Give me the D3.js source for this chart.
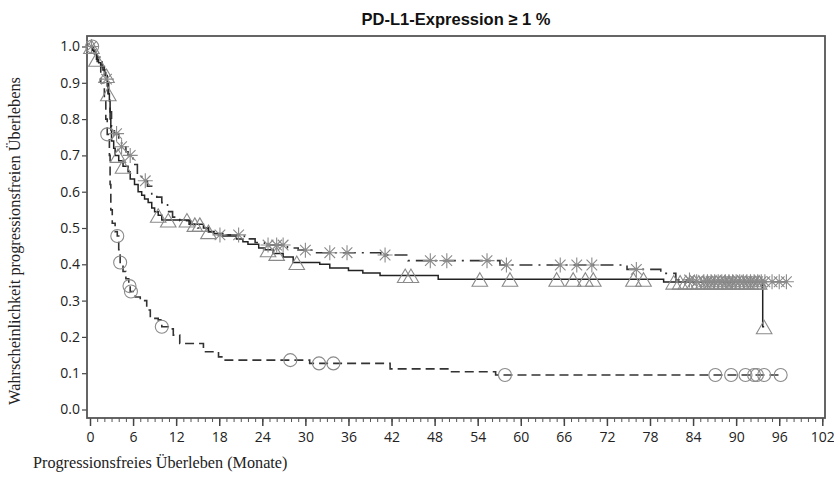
<!DOCTYPE html>
<html><head><meta charset="utf-8">
<script src="https://cdn.jsdelivr.net/npm/d3@7"></script>
<style>body{margin:0;background:#fff}svg{display:block}</style>
</head><body>
<svg id="c" width="834" height="488"></svg>
<script>
// ---- data ----
const title = "PD-L1-Expression \u2265 1 %";
const xTicks = [0,6,12,18,24,30,36,42,48,54,60,66,72,78,84,90,96,102];
const yTicks = [0,0.1,0.2,0.3,0.4,0.5,0.6,0.7,0.8,0.9,1.0];
const yLabel = "Wahrscheinlichkeit progressionsfreien \u00dcberlebens";
const xLabel = "Progressionsfreies \u00dcberleben (Monate)";

// solid curve (triangle censors): [month, survival]
const solidSteps = [[0,1],[0.3,0.99],[0.6,0.98],[0.9,0.965],[1.2,0.955],[1.5,0.945],[1.8,0.935],[2.1,0.92],[2.4,0.90],[2.5,0.87],[2.7,0.85],[2.8,0.80],[2.9,0.77],[3.0,0.74],[3.3,0.72],[3.5,0.70],[4.0,0.685],[4.6,0.67],[5.3,0.655],[5.6,0.635],[6.2,0.62],[6.7,0.60],[7.2,0.59],[7.6,0.58],[8.1,0.57],[8.6,0.555],[9.0,0.545],[9.5,0.535],[10.0,0.522],[13.8,0.51],[15.8,0.50],[16.5,0.49],[17.2,0.485],[18.5,0.478],[20.4,0.47],[21.3,0.462],[22,0.455],[23.5,0.445],[24.4,0.44],[25.5,0.43],[26.9,0.42],[28.3,0.405],[32,0.40],[33.4,0.39],[36,0.383],[38,0.376],[40.4,0.369],[48.5,0.359],[79.9,0.351],[93.7,0.228],[93.9,0.228]];
const solidCensor = [0.2,0.9,2.3,2.55,3.9,4.6,9.5,10.9,13.5,14.6,15.3,16.5,24.8,26.0,28.8,43.9,44.7,54.3,58.5,65,67.3,69,70.1,75.7,77.1,81.3,82.2,83,83.6,84.2,84.8,85.4,86,86.6,87.2,87.8,88.4,89,89.6,90.2,90.8,91.4,92,92.6,93.2,93.9];

// dash-dot curve (star censors)
const dashDotSteps = [[0,1],[0.3,0.99],[0.7,0.98],[1.0,0.97],[1.4,0.96],[1.7,0.945],[2.0,0.93],[2.3,0.91],[2.6,0.87],[2.8,0.82],[3.0,0.78],[3.4,0.76],[4.0,0.74],[4.4,0.724],[5.0,0.71],[5.3,0.70],[6.0,0.675],[6.6,0.645],[7.2,0.63],[8.0,0.615],[8.6,0.59],[9.3,0.585],[10.0,0.57],[10.8,0.545],[11.5,0.53],[12.5,0.52],[14,0.51],[15,0.50],[16.5,0.49],[17.5,0.481],[21.5,0.47],[23,0.46],[24.3,0.453],[27.5,0.445],[29,0.439],[31,0.432],[40.5,0.4256],[44.3,0.41],[57.1,0.398],[74.8,0.386],[79.5,0.375],[81.6,0.357],[84,0.352],[97,0.352]];
const dashDotCensor = [0.2,2.3,3.7,4.4,5.6,7.7,18.1,20.7,24.8,26,26.9,30,33.4,35.8,41.1,47.4,49.7,55.3,58,65.5,67.8,69.9,76.1,83.5,84.5,85.5,86,86.5,87,87.5,88,88.5,89,89.5,90,90.5,91,91.5,92,92.5,93,93.5,94,95,96,97];

// dashed curve (circle censors)
const dashedSteps = [[0,1],[0.5,0.98],[1.0,0.95],[1.5,0.9],[2.0,0.85],[2.2,0.80],[2.4,0.758],[2.7,0.70],[2.8,0.62],[2.9,0.55],[3.1,0.513],[3.5,0.49],[3.8,0.478],[4.0,0.44],[4.2,0.405],[4.6,0.38],[5.0,0.36],[5.4,0.34],[5.6,0.325],[6.3,0.31],[7.0,0.30],[7.9,0.274],[8.4,0.251],[9.5,0.247],[10.0,0.228],[10.9,0.222],[11.6,0.205],[12.5,0.182],[15.8,0.159],[17.9,0.145],[18.6,0.136],[30.6,0.127],[41.8,0.112],[50.2,0.104],[56.5,0.095],[96.2,0.095]];
const dashedCensor = [0.3,2.4,3.8,4.2,5.5,5.7,10.0,27.9,31.9,33.9,57.8,87.1,89.3,91.3,92.5,92.9,93.9,96.2];

// ---- drawing ----
const svg = d3.select("#c");
svg.append("rect").attr("width",834).attr("height",488).attr("fill","#fff");
const frame = {l:87, r:825, t:36, b:418};
const x = d3.scaleLinear().domain([0,102]).range([90,822.3]);
const y = d3.scaleLinear().domain([0,1]).range([409.5,46.5]);

function survAt(steps, t){
  let s = steps[0][1];
  for (const p of steps){ if (p[0] <= t + 1e-9) s = p[1]; else break; }
  return s;
}

// title
svg.append("text").attr("x",456).attr("y",25).attr("text-anchor","middle")
  .attr("font-family","Liberation Sans, Arial, sans-serif").attr("font-weight","bold")
  .attr("font-size",16.5).attr("fill","#111").text(title);

// x axis with minor ticks
const xMinor = d3.range(0,103,1);
const gxm = svg.append("g").attr("transform",`translate(0,${frame.b})`)
  .call(d3.axisBottom(x).tickValues(xMinor).tickSize(4).tickFormat(""));
gxm.select(".domain").remove();
gxm.selectAll("line").attr("stroke","#555");
const gx = svg.append("g").attr("transform",`translate(0,${frame.b})`)
  .call(d3.axisBottom(x).tickValues(xTicks).tickSize(8).tickPadding(6).tickFormat(d3.format("d")));
gx.select(".domain").remove();
gx.selectAll("line").attr("stroke","#444").attr("stroke-width",1.5);
gx.selectAll("text").attr("font-family","Open Sans, Liberation Sans, sans-serif").attr("font-size",14).attr("fill","#222");

// y axis
const gy = svg.append("g").attr("transform",`translate(${frame.l},0)`)
  .call(d3.axisLeft(y).tickValues(yTicks).tickSize(5).tickPadding(2).tickFormat(d3.format(".1f")));
gy.select(".domain").remove();
gy.selectAll("line").attr("stroke","#444").attr("stroke-width",1.2);
gy.selectAll("text").attr("font-family","Open Sans, Liberation Sans, sans-serif").attr("font-size",14).attr("fill","#222");

// frame
svg.append("rect").attr("x",frame.l).attr("y",frame.t).attr("width",frame.r-frame.l).attr("height",frame.b-frame.t)
  .attr("fill","none").attr("stroke","#555").attr("stroke-width",1.8);

// axis labels
svg.append("text").attr("transform",`translate(20,241) rotate(-90)`).attr("text-anchor","middle")
  .attr("font-family","Liberation Serif, Times New Roman, serif").attr("font-size",16.3).attr("fill","#222").text(yLabel);
svg.append("text").attr("x",33).attr("y",468)
  .attr("font-family","Liberation Serif, Times New Roman, serif").attr("font-size",16.2).attr("fill","#222").text(xLabel);

// curves
const line = d3.line().x(d=>x(d[0])).y(d=>y(d[1])).curve(d3.curveStepAfter);
const plot = svg.append("g");
plot.append("path").datum(dashedSteps).attr("d",line).attr("fill","none")
  .attr("stroke","#333").attr("stroke-width",1.6).attr("stroke-dasharray","9,5");
plot.append("path").datum(dashDotSteps).attr("d",line).attr("fill","none")
  .attr("stroke","#333").attr("stroke-width",1.6).attr("stroke-dasharray","13,6,2,6");
plot.append("path").datum(solidSteps).attr("d",line).attr("fill","none")
  .attr("stroke","#222").attr("stroke-width",1.5);

// censor markers
const mk = svg.append("g").attr("fill","none").attr("stroke","#8a8a8a").attr("stroke-width",1.1);
mk.selectAll("circle.c").data(dashedCensor).join("circle")
  .attr("cx",d=>x(d)).attr("cy",d=>y(survAt(dashedSteps,d))).attr("r",6.5);
const tri = d3.symbol().type(d3.symbolTriangle).size(105);
mk.selectAll("path.t").data(solidCensor).join("path")
  .attr("transform",d=>`translate(${x(d)},${y(survAt(solidSteps,d))+2.5})`).attr("d",tri());
const starPath = (()=>{const r=7.5; let p=""; for(let k=0;k<4;k++){const a=k*Math.PI/4; const dx=r*Math.cos(a), dy=r*Math.sin(a); p+=`M${-dx},${-dy}L${dx},${dy}`;} return p;})();
mk.selectAll("path.s").data(dashDotCensor).join("path")
  .attr("transform",d=>`translate(${x(d)},${y(survAt(dashDotSteps,d))})`).attr("d",starPath);
</script>
</body></html>
